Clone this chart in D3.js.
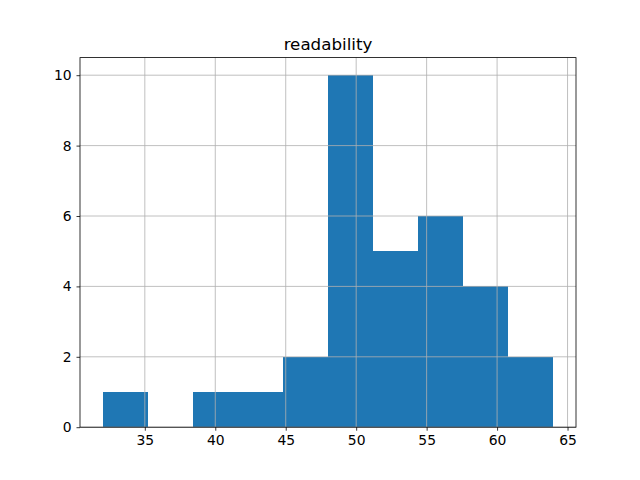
<!DOCTYPE html>
<html>
<head>
<meta charset="utf-8">
<script src="https://cdn.jsdelivr.net/npm/d3@7"></script>
<style>
  body { margin: 0; background: #fff; }
  svg text { font-family: "DejaVu Sans", sans-serif; }
</style>
</head>
<body>
<div id="chart"></div>
<script>
// histogram of readability, 10 bins
var binEdges = [32.0, 35.2, 38.4, 41.6, 44.8, 48.0, 51.2, 54.4, 57.6, 60.8, 64.0];
var counts = [1, 0, 1, 1, 2, 10, 5, 6, 4, 2];
var xTicks = [35, 40, 45, 50, 55, 60, 65];
var yTicks = [0, 2, 4, 6, 8, 10];
var title = "readability";

var width = 640, height = 480;
var margin = {left: 80, right: 64, top: 57.6, bottom: 52.8};

var svg = d3.select('#chart').append('svg')
    .attr('width', width)
    .attr('height', height);

var lo = binEdges[0], hi = binEdges[binEdges.length - 1];
var pad = (hi - lo) * 0.05;

var x = d3.scaleLinear()
    .domain([lo - pad, hi + pad])
    .range([margin.left, width - margin.right]);

var y = d3.scaleLinear()
    .domain([0, d3.max(counts) * 1.05])
    .range([height - margin.bottom, margin.top]);

var bins = counts.map(function(c, i) {
    return {x0: binEdges[i], x1: binEdges[i + 1], n: c};
});

svg.append('g').selectAll('rect')
    .data(bins.filter(function(d) { return d.n > 0; }))
    .enter().append('rect')
    .attr('x', function(d) { return Math.round(x(d.x0)); })
    .attr('width', function(d) { return Math.round(x(d.x1)) - Math.round(x(d.x0)); })
    .attr('y', function(d) { return Math.round(y(d.n)); })
    .attr('height', function(d) { return Math.round(y(0)) - Math.round(y(d.n)); })
    .attr('shape-rendering', 'crispEdges')
    .attr('fill', '#1f77b4');

// grid sits over the bars
var grid = svg.append('g').attr('stroke', '#b0b0b0').attr('stroke-width', 0.8);
grid.selectAll('.gx').data(xTicks).enter().append('line')
    .attr('x1', function(d) { return x(d); })
    .attr('x2', function(d) { return x(d); })
    .attr('y1', y.range()[0])
    .attr('y2', y.range()[1]);
grid.selectAll('.gy').data(yTicks).enter().append('line')
    .attr('x1', x.range()[0])
    .attr('x2', x.range()[1])
    .attr('y1', function(d) { return y(d); })
    .attr('y2', function(d) { return y(d); });

var xAxis = d3.axisBottom(x).tickValues(xTicks).tickSize(3.5).tickPadding(4.9).tickSizeOuter(0);
var yAxis = d3.axisLeft(y).tickValues(yTicks).tickSize(3.5).tickPadding(4.9).tickSizeOuter(0);

var gx = svg.append('g')
    .attr('transform', 'translate(0,' + y.range()[0] + ')')
    .call(xAxis);
var gy = svg.append('g')
    .attr('transform', 'translate(' + x.range()[0] + ',0)')
    .call(yAxis);

[gx, gy].forEach(function(g) {
    g.select('.domain').remove();
    g.selectAll('line').attr('stroke', '#000').attr('stroke-width', 0.8);
    g.selectAll('text').attr('font-size', '13.9px').attr('fill', '#000')
        .style('font-family', '"DejaVu Sans", sans-serif');
});

// spines
svg.append('rect')
    .attr('x', x.range()[0])
    .attr('y', y.range()[1])
    .attr('width', x.range()[1] - x.range()[0])
    .attr('height', y.range()[0] - y.range()[1])
    .attr('fill', 'none')
    .attr('stroke', '#000')
    .attr('stroke-width', 0.8);

svg.append('text')
    .attr('x', (x.range()[0] + x.range()[1]) / 2)
    .attr('y', margin.top - 8)
    .attr('text-anchor', 'middle')
    .attr('font-size', '16.7px')
    .text(title);
</script>
</body>
</html>
